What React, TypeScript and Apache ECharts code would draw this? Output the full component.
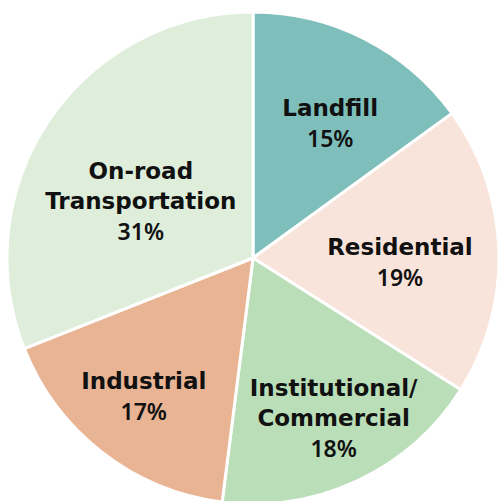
import React, { useEffect, useRef } from "react";
import * as echarts from "echarts";

const categories = ["Landfill", "Residential", "Institutional/\nCommercial", "Industrial", "On-road\nTransportation"];
const values = [15, 19, 18, 17, 31];
const colors = ["#7fbfbb", "#f8e4da", "#badeb8", "#e9b494", "#deeedb"];
// label shift from the slice's default inside position (styling)
const labelShift: [number, number][] = [
  [20, -23],
  [21, 8],
  [27, 46],
  [-32, 38],
  [-8, 14],
];

export default function App() {
  const ref = useRef<HTMLDivElement>(null);
  useEffect(() => {
    if (!ref.current) return;
    const chart = echarts.init(ref.current, undefined, { renderer: "svg" });
    chart.setOption({
      animation: false,
      series: [
        {
          type: "pie",
          center: [253, 258],
          radius: 246,
          startAngle: 90,
          clockwise: true,
          itemStyle: { borderColor: "#ffffff", borderWidth: 3 },
          label: {
            show: true,
            position: "inside",
            color: "#111111",
            formatter: (p: any) => {
              const lines = String(p.name).split("\n").map((l: string) => `{n|${l}}`);
              return lines.join("\n") + `\n{p|${p.value}%}`;
            },
            rich: {
              n: { fontFamily: "DejaVu Sans", fontWeight: "bold", fontSize: 23, lineHeight: 30, color: "#111111" },
              p: { fontFamily: "Noto Sans", fontWeight: 600, fontSize: 23, lineHeight: 30, color: "#111111" },
            },
          },
          labelLine: { show: false },
          labelLayout: (params: any) => {
            const s = labelShift[params.dataIndex];
            return { dx: s[0], dy: s[1] };
          },
          data: categories.map((name, i) => ({
            name,
            value: values[i],
            itemStyle: { color: colors[i] },
          })),
        },
      ],
    });
    return () => chart.dispose();
  }, []);
  return (
    <div
      ref={ref}
      style={{ position: "fixed", left: 0, top: 0, width: 498, height: 501, background: "#ffffff" }}
    />
  );
}
